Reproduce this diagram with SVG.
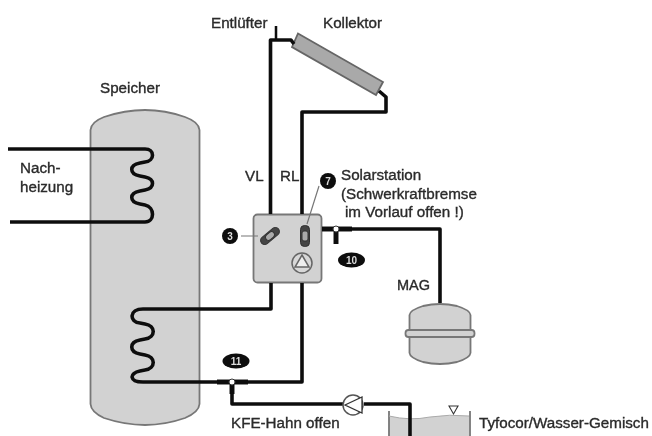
<svg xmlns="http://www.w3.org/2000/svg" width="652" height="436" viewBox="0 0 652 436">
<defs><filter id="soft" x="-2%" y="-2%" width="104%" height="104%"><feGaussianBlur stdDeviation="0.6"/></filter></defs>
<style>
text{font-family:"Liberation Sans",Arial,sans-serif;font-size:15.200px;fill:#2a2a2a;stroke:#2a2a2a;stroke-width:.35}
.pipe{fill:none;stroke:#111;stroke-width:3.600;stroke-linejoin:round;stroke-linecap:butt}
.shape{fill:#d2d2d2;stroke:#777;stroke-width:1.800}
.thin{fill:none;stroke:#777;stroke-width:1.200}
.badge{fill:#0a0a0a}
.num{font-size:10px;fill:#ddd;stroke:none;font-weight:bold;text-anchor:middle}
</style>
<rect width="652" height="436" fill="#fff"/>
<g filter="url(#soft)">
<g id="speicher"><path class="shape" d="M90.500 130Q91 122 104 117Q125 110 145 110Q165 110 185 117Q199 122 199.500 130V404Q199 412 185 418Q165 425 145 425Q125 425 104 418Q91 412 90.500 404Z"/><text x="100" y="93">Speicher</text></g>
<g id="kollektor"><path class="shape" d="M298 33.500L383 82L376 95L292 47Z" style="fill:#a9a9a9;stroke:#666"/><text x="323" y="28">Kollektor</text></g>
<g id="solarstation"><rect class="shape" x="253.500" y="214.500" width="68" height="68" rx="4"/>
<g stroke="#333" stroke-width="1"><rect x="-11" y="-4" width="22" height="8" rx="4" fill="#444" transform="translate(270 236) rotate(-40)"/><rect x="-5" y="-3" width="10" height="6" rx="3" fill="#aaa" transform="translate(270 236) rotate(-40)"/><rect x="-4.500" y="-10.500" width="9" height="21" rx="4" fill="#444" transform="translate(305 236)"/><rect x="-3" y="-5" width="6" height="10" rx="2" fill="#aaa" transform="translate(305 236)"/></g>
<circle cx="302" cy="263" r="10" fill="#d8d8d8" stroke="#666" stroke-width="1.500"/><path d="M302 255L309 267H295Z" fill="#eee" stroke="#666" stroke-width="1.500"/>
<text x="341" y="180">Solarstation</text><text x="341" y="199">(Schwerkraftbremse</text><text x="345" y="217">im Vorlauf offen !)</text></g>
<g id="mag"><path class="shape" d="M409.500 315Q410 310 423 306Q440 302 457 306Q470 310 470.500 315V353Q470 358 457 362Q440 366 423 362Q410 358 409.500 353Z"/><rect class="shape" x="405.500" y="330" width="69" height="7" rx="3"/><text x="397" y="290" style="font-size:14.500px">MAG</text></g>
<g id="behaelter"><path d="M389 416Q410 421 430 417Q450 414 469 416V436H389Z" fill="#d2d2d2"/><path class="thin" d="M389 411V436M470 411V436" style="stroke-width:1.800"/><path d="M389 416Q410 421 430 417Q450 414 469 416" fill="none" stroke="#aaa"/><path d="M449 406H458L453.500 414Z" fill="#fff" stroke="#333" stroke-width="1.100"/><text x="479" y="428">Tyfocor/Wasser-Gemisch</text></g>
<g id="connectors">
<path class="pipe" d="M270.500 214V40H291L294 44"/><path class="pipe" d="M276 26V40" style="stroke-width:2.500"/>
<path class="pipe" d="M302 214V112H386V97L379 91"/>
<path class="pipe" d="M8 149H145C155 149 155 161 145 162L140 163C129 165 129 174 140 176L145 177C155 179 155 188 145 190L140 191C129 193 129 202 140 204L145 205C155 207 155 222 145 222H10"/>
<path class="pipe" d="M271 283V309H143C129 309 129 322 140 323L145 324C156 326 156 337 145 339L140 340C129 342 129 352 140 354L145 355C156 357 156 368 145 370L140 371C129 373 129 382 143 382H302V283"/>
<path class="pipe" d="M322 229H440V303"/><path class="pipe" d="M322 229H352" style="stroke-width:5"/><path class="pipe" d="M336 229V244" style="stroke-width:5"/>
<path class="pipe" d="M217 382H248" style="stroke-width:5"/><path class="pipe" d="M232 382V404H343M364 404H410V436"/><path class="pipe" d="M232 384V394" style="stroke-width:5"/>
<path d="M241 236H258M319 186L307 224" fill="none" stroke="#777" stroke-width="1.200"/>
</g>
<g id="t-stuecke"><circle cx="336" cy="229" r="3" fill="#fff" stroke="#333"/><circle cx="232" cy="382" r="3" fill="#fff" stroke="#333"/></g>
<g id="pumpe"><circle cx="353" cy="405" r="10" fill="#fff" stroke="#555" stroke-width="1.500"/><path d="M345 405L362 397V413Z" fill="#fff" stroke="#333" stroke-width="1.300"/></g>
<g id="badge-3"><circle class="badge" cx="230" cy="236" r="8"/><text class="num" x="230" y="239.500" style="font-size:10px">3</text></g>
<g id="badge-7"><circle class="badge" cx="328" cy="181" r="8"/><text class="num" x="328" y="184.500" style="font-size:10px">7</text></g>
<g id="badge-10"><ellipse class="badge" cx="351.500" cy="260" rx="13.500" ry="7.500"/><text class="num" x="351.500" y="263.500" style="font-size:10px">10</text></g>
<g id="badge-11"><ellipse class="badge" cx="236" cy="361" rx="13.500" ry="7.500"/><text class="num" x="236" y="364.500" style="font-size:10px">11</text></g>
<text x="211" y="28">Entlüfter</text>
<text x="20" y="173">Nach-</text><text x="20" y="192">heizung</text>
<text x="245" y="181">VL</text><text x="280" y="181">RL</text>
<text x="231" y="428">KFE-Hahn offen</text>
</g>
</svg>
